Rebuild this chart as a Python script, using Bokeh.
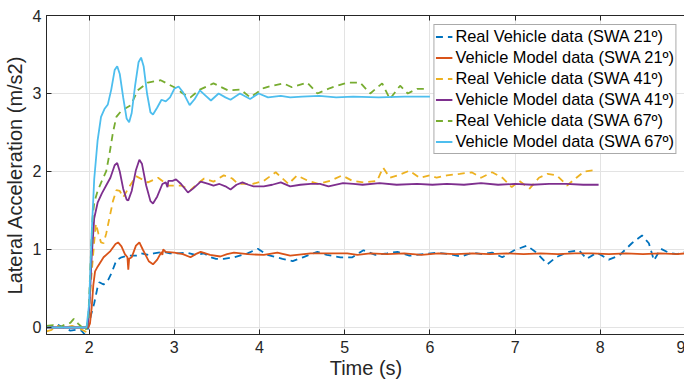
from bokeh.plotting import figure
from bokeh.models import Range1d, FixedTicker, Legend, LegendItem, LinearAxis
from bokeh.embed import file_html
from bokeh.resources import INLINE

# ---- data ----
t_model67 = [1.5, 1.97, 2.0, 2.03, 2.06, 2.1, 2.14, 2.18, 2.22, 2.26, 2.3, 2.33, 2.36, 2.4, 2.44, 2.47, 2.5, 2.54, 2.58, 2.61, 2.64, 2.68, 2.72, 2.75, 2.8, 2.85, 2.9, 2.95, 3.0, 3.05, 3.1, 3.18, 3.24, 3.3, 3.36, 3.43, 3.52, 3.6, 3.66, 3.77, 3.89, 3.99, 4.1, 4.25, 4.36, 4.5, 4.7, 4.9, 5.1, 5.4, 5.7, 6.0]
v_model67 = [0, 0, 0.3, 1.2, 1.9, 2.4, 2.7, 2.8, 2.86, 3.05, 3.3, 3.35, 3.25, 2.95, 2.68, 2.63, 2.75, 3.1, 3.4, 3.46, 3.35, 3.0, 2.76, 2.73, 2.82, 2.92, 2.9, 2.95, 3.06, 3.09, 3.02, 2.85, 2.93, 3.04, 2.98, 2.91, 3.0, 2.95, 2.92, 3.0, 2.93, 3.0, 2.95, 2.97, 2.95, 2.96, 2.97, 2.95, 2.96, 2.95, 2.96, 2.96]

t_real67 = [1.5, 1.58, 1.65, 1.72, 1.78, 1.82, 1.87, 1.92, 1.96, 1.99, 2.02, 2.04, 2.06, 2.1, 2.15, 2.2, 2.24, 2.28, 2.32, 2.38, 2.49, 2.57, 2.69, 2.84, 3.0, 3.1, 3.19, 3.3, 3.46, 3.63, 3.78, 3.89, 4.05, 4.15, 4.28, 4.38, 4.56, 4.68, 4.83, 5.03, 5.18, 5.3, 5.44, 5.53, 5.65, 5.74, 5.85, 5.96]
v_real67 = [0.02, 0.03, 0.0, 0.04, 0.06, 0.11, 0.05, 0.0, -0.04, 0.1, 0.9, 1.4, 1.6, 1.75, 1.88, 2.0, 2.23, 2.5, 2.7, 2.78, 2.85, 3.04, 3.14, 3.17, 3.08, 3.0, 2.95, 3.05, 3.13, 3.04, 3.05, 2.95, 3.07, 3.1, 3.13, 3.08, 3.14, 3.0, 3.07, 3.14, 3.14, 3.0, 3.13, 2.93, 3.1, 3.0, 3.06, 3.06]

t_model41 = [1.5, 1.98, 2.0, 2.03, 2.06, 2.1, 2.15, 2.2, 2.25, 2.3, 2.33, 2.36, 2.4, 2.44, 2.46, 2.5, 2.55, 2.59, 2.62, 2.67, 2.72, 2.75, 2.8, 2.86, 2.9, 2.92, 2.93, 2.98, 3.02, 3.08, 3.16, 3.22, 3.31, 3.4, 3.46, 3.53, 3.6, 3.66, 3.73, 3.8, 3.87, 3.93, 4.05, 4.15, 4.25, 4.36, 4.48, 4.6, 4.71, 4.81, 4.98, 5.1, 5.21, 5.41, 5.61, 5.85, 6.03, 6.2, 6.4, 6.6, 6.8, 7.0, 7.2, 7.4, 7.6, 7.8, 7.98]
v_model41 = [0, 0, 0.2, 0.9, 1.4, 1.6, 1.72, 1.82, 1.92, 2.08, 2.11, 2.0, 1.78, 1.64, 1.63, 1.75, 2.02, 2.15, 2.1, 1.82, 1.62, 1.59, 1.68, 1.84, 1.86, 1.8, 1.88, 1.88, 1.9, 1.84, 1.73, 1.78, 1.87, 1.84, 1.82, 1.84, 1.81, 1.77, 1.83, 1.86, 1.83, 1.81, 1.81, 1.83, 1.86, 1.81, 1.83, 1.84, 1.84, 1.81, 1.85, 1.84, 1.83, 1.85, 1.83, 1.84, 1.83, 1.84, 1.83, 1.85, 1.83, 1.84, 1.83, 1.84, 1.84, 1.83, 1.83]

t_real41 = [1.5, 1.56, 1.62, 1.7, 1.8, 1.9, 1.97, 2.0, 2.03, 2.06, 2.08, 2.11, 2.14, 2.17, 2.2, 2.24, 2.28, 2.32, 2.36, 2.4, 2.47, 2.55, 2.62, 2.69, 2.81, 2.93, 3.08, 3.19, 3.27, 3.35, 3.46, 3.58, 3.68, 3.75, 3.92, 4.05, 4.19, 4.27, 4.34, 4.44, 4.57, 4.69, 4.83, 4.97, 5.09, 5.22, 5.38, 5.45, 5.53, 5.62, 5.76, 5.88, 6.0, 6.08, 6.2, 6.35, 6.49, 6.6, 6.73, 6.85, 6.96, 7.05, 7.17, 7.28, 7.38, 7.49, 7.61, 7.72, 7.81, 7.96]
v_real41 = [-0.05, -0.03, 0.02, 0.0, 0.02, -0.02, -0.06, 0.2, 0.7, 1.1, 1.33, 1.2, 1.09, 1.08, 1.2, 1.41, 1.62, 1.76, 1.75, 1.67, 1.8, 1.94, 1.9, 1.86, 1.92, 1.82, 1.82, 1.76, 1.84, 1.91, 1.87, 1.95, 1.91, 1.84, 1.84, 1.88, 1.99, 1.91, 1.84, 1.95, 1.88, 1.84, 1.88, 1.95, 1.88, 1.86, 1.88, 2.05, 1.92, 1.95, 2.01, 1.92, 1.95, 1.92, 1.95, 1.97, 1.99, 1.92, 1.99, 1.92, 1.8, 1.88, 1.78, 1.92, 1.97, 1.95, 1.82, 1.92, 2.0, 2.02]

t_model21 = [1.5, 1.99, 2.01, 2.03, 2.05, 2.07, 2.1, 2.17, 2.25, 2.31, 2.34, 2.38, 2.42, 2.45, 2.46, 2.47, 2.5, 2.55, 2.59, 2.63, 2.7, 2.75, 2.8, 2.85, 2.86, 2.87, 2.9, 3.0, 3.1, 3.19, 3.25, 3.31, 3.42, 3.54, 3.62, 3.7, 3.86, 4.05, 4.21, 4.36, 4.6, 4.79, 5.03, 5.15, 5.3, 5.5, 5.7, 5.9, 6.1, 6.3, 6.5, 6.7, 6.9, 7.1, 7.3, 7.5, 7.7, 7.9, 8.1, 8.3, 8.5, 8.7, 8.9, 9.0]
v_model21 = [0, 0, 0.05, 0.25, 0.55, 0.72, 0.78, 0.9, 0.98, 1.07, 1.09, 1.04, 0.94, 0.9, 0.74, 0.88, 0.9, 1.05, 1.09, 1.0, 0.85, 0.81, 0.87, 0.97, 0.93, 1.0, 0.97, 0.96, 0.94, 0.9, 0.94, 0.97, 0.93, 0.91, 0.94, 0.96, 0.94, 0.93, 0.96, 0.92, 0.95, 0.95, 0.95, 0.93, 0.95, 0.94, 0.95, 0.93, 0.95, 0.94, 0.95, 0.94, 0.95, 0.94, 0.95, 0.94, 0.95, 0.95, 0.94, 0.95, 0.94, 0.95, 0.94, 0.95]

t_real21 = [1.5, 1.56, 1.62, 1.7, 1.78, 1.85, 1.91, 1.95, 1.98, 2.02, 2.06, 2.1, 2.12, 2.17, 2.22, 2.26, 2.32, 2.38, 2.46, 2.55, 2.61, 2.7, 2.76, 2.88, 2.95, 3.04, 3.14, 3.25, 3.35, 3.43, 3.49, 3.58, 3.7, 3.86, 3.98, 4.09, 4.27, 4.39, 4.51, 4.68, 4.79, 4.95, 5.09, 5.22, 5.36, 5.5, 5.62, 5.76, 5.92, 6.08, 6.23, 6.37, 6.5, 6.62, 6.73, 6.85, 6.99, 7.14, 7.25, 7.38, 7.48, 7.63, 7.75, 7.84, 7.96, 8.1, 8.22, 8.37, 8.49, 8.57, 8.63, 8.71, 8.8, 8.9, 9.0]
v_real21 = [0, 0.01, 0.04, 0.0, -0.04, -0.03, -0.04, -0.09, -0.05, 0.15, 0.31, 0.52, 0.58, 0.55, 0.6, 0.69, 0.86, 0.9, 0.92, 0.92, 0.95, 0.93, 0.95, 0.97, 0.95, 0.95, 0.96, 0.93, 0.95, 0.9, 0.88, 0.88, 0.9, 0.95, 1.01, 0.93, 0.88, 0.85, 0.9, 0.97, 0.93, 0.9, 0.9, 0.99, 0.93, 0.95, 0.97, 0.92, 0.94, 0.96, 0.94, 0.91, 0.96, 0.94, 0.96, 0.9, 0.99, 1.05, 0.96, 0.81, 0.9, 0.97, 0.99, 0.88, 0.96, 0.87, 0.92, 1.08, 1.18, 1.08, 0.86, 1.01, 0.96, 0.94, 0.97]

labels = ["Real Vehicle data (SWA 21º)", "Vehicle Model data (SWA 21º)",
          "Real Vehicle data (SWA 41º)", "Vehicle Model data (SWA 41º)",
          "Real Vehicle data (SWA 67º)", "Vehicle Model data (SWA 67º)"]
x_ticks = [2, 3, 4, 5, 6, 7, 8, 9]
y_ticks = [0, 1, 2, 3, 4]

colors = ["#0072BD", "#D95319", "#EDB120", "#7E2F8E", "#77AC30", "#4DBEEE"]
FONT = "Liberation Sans"
AX = "#262626"

p = figure(frame_width=639, frame_height=319, output_backend="svg", toolbar_location=None,
           x_range=Range1d(1.5, 9.0), y_range=Range1d(-0.09, 4.0),
           min_border_left=45, min_border_right=0, min_border_top=15, min_border_bottom=53)
p.background_fill_color = "white"
p.border_fill_color = "white"
p.outline_line_color = AX
p.outline_line_width = 1

series = [(t_real21, v_real21), (t_model21, v_model21), (t_real41, v_real41),
          (t_model41, v_model41), (t_real67, v_real67), (t_model67, v_model67)]
items = []
for i, (tx, vy) in enumerate(series):
    dash = "7 5" if i % 2 == 0 else "solid"
    r = p.line(tx, vy, line_color=colors[i], line_width=1.8, line_dash=dash)
    items.append(LegendItem(label=labels[i], renderers=[r]))

for ax in (p.xaxis[0], p.yaxis[0]):
    ax.axis_line_color = AX
    ax.major_tick_line_color = AX
    ax.major_tick_in = 5
    ax.major_tick_out = 0
    ax.minor_tick_line_color = None
    ax.major_label_text_font = FONT
    ax.major_label_text_font_size = "16px"
    ax.major_label_text_color = AX
    ax.axis_label_text_font = FONT
    ax.axis_label_text_font_size = "20px"
    ax.axis_label_text_font_style = "normal"
    ax.axis_label_text_color = AX

p.xaxis[0].ticker = FixedTicker(ticks=x_ticks)
p.yaxis[0].ticker = FixedTicker(ticks=y_ticks)
p.xaxis[0].axis_label = "Time (s)"
p.yaxis[0].axis_label = "Lateral Acceleration (m/s2)"
p.xaxis[0].major_label_standoff = 6
p.yaxis[0].major_label_standoff = 5
p.xaxis[0].axis_label_standoff = 1
p.yaxis[0].axis_label_standoff = 4

top = LinearAxis(ticker=FixedTicker(ticks=x_ticks), major_label_text_font_size="1px",
                 major_label_text_color=None,
                 major_label_standoff=0, major_tick_in=5, major_tick_out=0,
                 minor_tick_line_color=None, axis_line_color=AX, major_tick_line_color=AX)
p.add_layout(top, "above")

p.xgrid.ticker = FixedTicker(ticks=x_ticks)
p.ygrid.ticker = FixedTicker(ticks=y_ticks)
p.grid.grid_line_color = "#e3e3e3"
p.grid.grid_line_width = 1

legend = Legend(items=items, location="top_right")
legend.label_text_font = FONT
legend.label_text_font_size = "16.4px"
legend.label_text_color = "black"
legend.glyph_width = 17
legend.glyph_height = 21
legend.label_height = 21
legend.label_standoff = 3
legend.spacing = 0
legend.padding = 1
legend.margin = 9
legend.border_line_color = "#555555"
legend.border_line_width = 1
legend.background_fill_alpha = 1
p.add_layout(legend, "center")

open("out.html", "w").write(file_html(p, INLINE))
